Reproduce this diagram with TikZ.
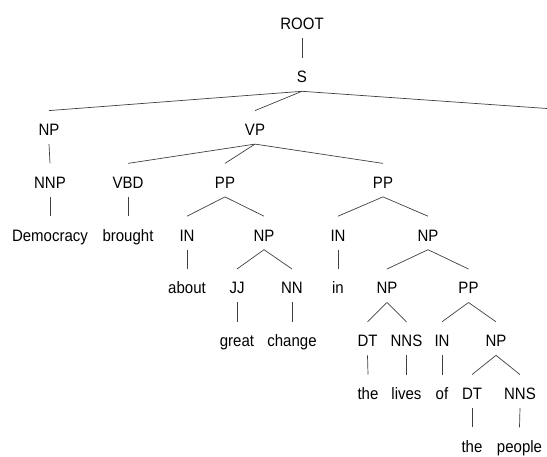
\documentclass[tikz,border=0pt]{standalone}
\usepackage{fontspec}
\setmainfont{Liberation Sans}
\usepackage{graphicx}
\newcommand{\tx}[1]{\scalebox{1}[1.1]{#1}}
\begin{document}
\begin{tikzpicture}[x=1pt,y=-1pt,
  lab/.style={inner sep=0pt, outer sep=0pt, minimum height=33.5pt, text height=16.3pt, text depth=0pt,
     font=\fontsize{15pt}{17pt}\selectfont, text=black},
  edge/.style={draw=black!75, line width=0.7pt}]
\useasboundingbox (0,0) rectangle (547,457);
% row y (box centres; text visual centres lie 2.25pt lower)
\def\ra{21.75}\def\rb{74.55}\def\rc{127.35}\def\rd{180.15}\def\re{232.95}
\def\rf{285.75}\def\rg{338.55}\def\rh{391.35}\def\ri{444.15}
\node[lab] (root) at (302,\ra) {\tx{ROOT}};
\node[lab] (s) at (302,\rb) {\tx{S}};
\node[lab] (np0) at (49,\rc) {\tx{NP}};
\node[lab] (vp) at (255,\rc) {\tx{VP}};
\coordinate (sx) at (547,108.5);
\node[lab] (nnp) at (50,\rd) {\tx{NNP}};
\node[lab] (vbd) at (128,\rd) {\tx{VBD}};
\node[lab] (pp1) at (225,\rd) {\tx{PP}};
\node[lab] (pp2) at (383,\rd) {\tx{PP}};
\node[lab] (w1) at (50,\re) {\tx{Democracy}};
\node[lab] (w2) at (128,\re) {\tx{brought}};
\node[lab] (in1) at (187,\re) {\tx{IN}};
\node[lab] (np1) at (264,\re) {\tx{NP}};
\node[lab] (in2) at (338,\re) {\tx{IN}};
\node[lab] (np2) at (428,\re) {\tx{NP}};
\node[lab] (w3) at (187,\rf) {\tx{about}};
\node[lab] (jj) at (237,\rf) {\tx{JJ}};
\node[lab] (nn) at (292,\rf) {\tx{NN}};
\node[lab] (w6) at (338,\rf) {\tx{in}};
\node[lab] (np3) at (387,\rf) {\tx{NP}};
\node[lab] (pp3) at (468.5,\rf) {\tx{PP}};
\node[lab] (w4) at (237,\rg) {\tx{great}};
\node[lab] (w5) at (292,\rg) {\tx{change}};
\node[lab] (dt1) at (367.5,\rg) {\tx{DT}};
\node[lab] (nns1) at (406.5,\rg) {\tx{NNS}};
\node[lab] (in3) at (442,\rg) {\tx{IN}};
\node[lab] (np4) at (496,\rg) {\tx{NP}};
\node[lab] (w7) at (368,\rh) {\tx{the}};
\node[lab] (w8) at (406.5,\rh) {\tx{lives}};
\node[lab] (w9) at (442,\rh) {\tx{of}};
\node[lab] (dt2) at (472,\rh) {\tx{DT}};
\node[lab] (nns2) at (520,\rh) {\tx{NNS}};
\node[lab] (w10) at (472,\ri) {\tx{the}};
\node[lab] (w11) at (519.5,\ri) {\tx{people}};
% edges
\path[edge] (root.south) -- (s.north);
\path[edge] (s.south) -- (np0.north);
\path[edge] (s.south) -- (vp.north);
\path[edge] (s.south) -- (sx);
\path[edge] (np0.south) -- (nnp.north);
\path[edge] (nnp.south) -- (w1.north);
\path[edge] (vp.south) -- (vbd.north);
\path[edge] (vp.south) -- (pp1.north);
\path[edge] (vp.south) -- (pp2.north);
\path[edge] (vbd.south) -- (w2.north);
\path[edge] (pp1.south) -- (in1.north);
\path[edge] (pp1.south) -- (np1.north);
\path[edge] (in1.south) -- (w3.north);
\path[edge] (np1.south) -- (jj.north);
\path[edge] (np1.south) -- (nn.north);
\path[edge] (jj.south) -- (w4.north);
\path[edge] (nn.south) -- (w5.north);
\path[edge] (pp2.south) -- (in2.north);
\path[edge] (pp2.south) -- (np2.north);
\path[edge] (in2.south) -- (w6.north);
\path[edge] (np2.south) -- (np3.north);
\path[edge] (np2.south) -- (pp3.north);
\path[edge] (np3.south) -- (dt1.north);
\path[edge] (np3.south) -- (nns1.north);
\path[edge] (dt1.south) -- (w7.north);
\path[edge] (nns1.south) -- (w8.north);
\path[edge] (pp3.south) -- (in3.north);
\path[edge] (pp3.south) -- (np4.north);
\path[edge] (in3.south) -- (w9.north);
\path[edge] (np4.south) -- (dt2.north);
\path[edge] (np4.south) -- (nns2.north);
\path[edge] (dt2.south) -- (w10.north);
\path[edge] (nns2.south) -- (w11.north);
\end{tikzpicture}
\end{document}
